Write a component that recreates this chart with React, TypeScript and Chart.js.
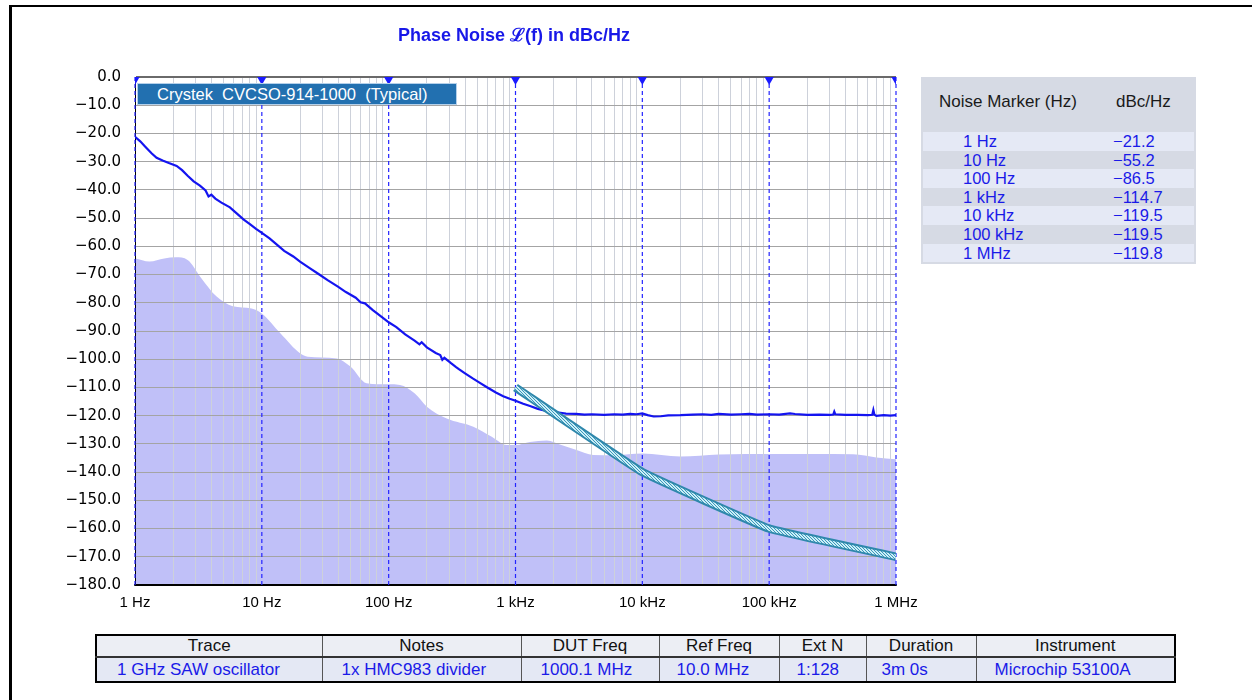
import { useEffect, useRef } from "react";
import { Chart, registerables } from "chart.js";
Chart.register(...registerables);

// ---------- data ----------
const MEAS_FREQ = [
  1, 1.1, 1.2, 1.35, 1.48, 1.65, 1.85, 2.13, 2.35, 2.6, 2.9, 3.25, 3.6, 3.8, 4.0, 4.3, 4.8, 5.6, 6.4, 7.2, 8.1, 9,
  10, 11.5, 13, 15, 17.7, 20, 24, 28, 33, 39.8, 46, 55, 60, 65, 75, 88,
  100, 115, 135, 160, 175, 182, 200, 235, 255, 265, 275, 310, 340, 360, 400, 460, 520, 600, 700, 800, 900,
  1000, 1150, 1300, 1500, 1750, 2115, 2500, 3000, 3500, 4000, 5000, 6000, 7000, 8000, 9000,
  10000, 11000, 12300, 14000, 16000, 20000, 25000, 30000, 35000, 40000, 50000, 60000, 70000, 80000,
  100000, 120000, 146000, 160000, 200000, 250000, 300000, 320000, 326000, 332000, 400000, 500000, 600000,
  650000, 663000, 675000, 700000, 800000, 900000, 1000000,
];
const MEAS_DB = [
  -21.2, -22.8, -24.6, -27, -28.6, -29.6, -30.5, -31.5, -33, -35, -37, -38.5, -40.2, -42.3, -41.7, -43.1, -44.5, -46.2, -48.5, -50.5, -52.2, -53.8,
  -55.2, -57.2, -59.2, -61.6, -63.6, -65.4, -67.8, -69.8, -72, -74.3, -76.2, -78.2, -79.8, -80.2, -82.6, -85,
  -86.9, -88.6, -91.2, -93.4, -94.7, -94.0, -95.8, -97.8, -98.5, -100.2, -99.5, -101.4, -102.8, -103.6, -105, -106.8, -108.3, -110, -111.8, -113.1, -114,
  -114.7, -115.8, -116.6, -117.6, -118.3, -118.8, -119.3, -119.4, -119.6, -119.5, -119.7, -119.5, -119.6, -119.4, -119.5,
  -119.2, -119.8, -120.3, -120.2, -119.9, -119.8, -119.6, -119.5, -119.7, -119.4, -119.6, -119.5, -119.4, -119.6,
  -119.5, -119.6, -119.2, -119.4, -119.7, -119.6, -119.7, -119.6, -118.6, -119.5, -119.7, -119.7, -119.8,
  -119.7, -118.0, -119.6, -120.1, -119.8, -120, -119.8,
];

const FLOOR_FREQ = [
  1, 1.3, 1.7, 2.1, 2.6, 3.3, 4.4, 5.9, 8.3, 10, 14, 20, 23, 39, 50, 67, 100, 123, 160, 200, 287, 465, 650, 850,
  1000, 1300, 1763, 2300, 3030, 4100, 6000, 10000, 20000, 40000, 66000, 224000, 460000, 700000, 1000000,
];
const FLOOR_DB = [
  -64.2, -65.4, -64.3, -63.9, -64.8, -71, -77.8, -81.2, -82, -83.8, -90.8, -97.9, -99.1, -99.7, -102.6, -108.5, -108.9, -109.1, -112.1, -116.8, -121, -123.9, -127.5, -130.4,
  -130.4, -129.3, -128.8, -130.4, -132.2, -133.9, -134, -133.4, -134.5, -133.8, -133.6, -133.6, -133.7, -134.8, -135.4,
];

const SPEC_FREQ = [1000, 10000, 100000, 1000000];
const SPEC_DB = [-110, -140, -160, -170];

const MARKER_FREQ = [1, 10, 100, 1000, 10000, 100000, 1000000];

const X_TICK_VALUES = [1, 10, 100, 1000, 10000, 100000, 1000000];
const X_TICK_LABELS = ["1 Hz", "10 Hz", "100 Hz", "1 kHz", "10 kHz", "100 kHz", "1 MHz"];
const Y_TICK_VALUES = [0, -10, -20, -30, -40, -50, -60, -70, -80, -90, -100, -110, -120, -130, -140, -150, -160, -170, -180];
const Y_TICK_LABELS = [
  "0.0", "−10.0", "−20.0", "−30.0", "−40.0", "−50.0", "−60.0", "−70.0", "−80.0", "−90.0",
  "−100.0", "−110.0", "−120.0", "−130.0", "−140.0", "−150.0", "−160.0", "−170.0", "−180.0",
];

const MARKER_NAMES = ["1 Hz", "10 Hz", "100 Hz", "1 kHz", "10 kHz", "100 kHz", "1 MHz"];
const MARKER_VALUES = ["−21.2", "−55.2", "−86.5", "−114.7", "−119.5", "−119.5", "−119.8"];

const INFO_HEAD = ["Trace", "Notes", "DUT Freq", "Ref Freq", "Ext N", "Duration", "Instrument"];
const INFO_ROW = ["1 GHz SAW oscillator", "1x HMC983 divider", "1000.1 MHz", "10.0 MHz", "1:128", "3m 0s", "Microchip 53100A"];

const LEGEND_TEXT = "Crystek  CVCSO-914-1000  (Typical)";

// ---------- layout ----------
const FONT = "'Liberation Sans', Arial, Helvetica, sans-serif";
const INFO_COL_W = [226, 199, 138, 120, 87, 110, 199];
const INFO_PAD = [20, 19, 19, 17, 17, 15, 18];

const X_GRID_VALUES: number[] = [];
for (const d of [1, 10, 100, 1000, 10000, 100000]) {
  for (let m = 1; m <= 9; m++) X_GRID_VALUES.push(d * m);
}
X_GRID_VALUES.push(1000000);

const isDecade = (v: number) => X_TICK_VALUES.some((d) => Math.abs(v - d) < 1e-9 * d);

function hatchPattern(): CanvasPattern | string {
  const c = document.createElement("canvas");
  c.width = 3;
  c.height = 3;
  const g = c.getContext("2d");
  if (!g) return "#9fd8e8";
  g.fillStyle = "#cdeff7";
  g.fillRect(0, 0, 3, 3);
  g.fillStyle = "#3c98bc";
  g.fillRect(0, 0, 1, 1);
  g.fillRect(1, 1, 1, 1);
  g.fillRect(2, 2, 1, 1);
  const p = g.createPattern(c, "repeat");
  return p || "#9fd8e8";
}

export default function App() {
  const ref = useRef<HTMLCanvasElement | null>(null);

  useEffect(() => {
    if (!ref.current) return;
    const pts = (xs: number[], ys: number[]) => xs.map((x, i) => ({ x, y: ys[i] }));

    const gridOverFill = {
      id: "gridOverFill",
      afterDatasetDraw(chart: any, args: any) {
        if (args.index === 0) {
          const area = chart.chartArea;
          const sx = chart.scales.x;
          const sy = chart.scales.y;
          chart.ctx.save();
          sx.drawGrid(area);
          sy.drawGrid(area);
          sx.drawBorder();
          sy.drawBorder();
          chart.ctx.restore();
        }
      },
    };

    const markerLines = MARKER_FREQ.map((f) => ({
      type: "line" as const,
      data: [
        { x: f, y: 0 },
        { x: f, y: -180 },
      ],
      borderColor: "#2424ff",
      borderWidth: 1.2,
      borderDash: [4, 3],
      pointRadius: 0,
      fill: false,
      order: 4,
      clip: 1,
    }));

    const chart = new Chart(ref.current, {
      type: "line",
      data: {
        datasets: [
          {
            data: pts(FLOOR_FREQ, FLOOR_DB),
            borderWidth: 0,
            borderColor: "rgba(0,0,0,0)",
            backgroundColor: "#c0c0f8",
            fill: "start",
            pointRadius: 0,
            cubicInterpolationMode: "monotone",
            order: 10,
          },
          ...markerLines,
          {
            data: pts(MEAS_FREQ, MEAS_DB),
            borderColor: "#1414f0",
            borderWidth: 2.2,
            pointRadius: 0,
            fill: false,
            tension: 0,
            order: 3,
          },
          {
            data: pts(SPEC_FREQ, SPEC_DB),
            borderColor: "#2f88ac",
            borderWidth: 8.5,
            pointRadius: 0,
            fill: false,
            tension: 0.08,
            order: 2,
          },
          {
            data: pts(SPEC_FREQ, SPEC_DB),
            borderColor: hatchPattern(),
            borderWidth: 4.5,
            pointRadius: 0,
            fill: false,
            tension: 0.08,
            order: 1,
          },
          {
            data: MARKER_FREQ.map((f) => ({ x: f, y: 0 })),
            showLine: false,
            pointStyle: "triangle",
            pointRotation: 180,
            pointRadius: 8,
            pointBackgroundColor: "#1a1aff",
            pointBorderWidth: 0,
            borderWidth: 0,
            order: 0,
            clip: 0,
          },
        ] as any,
      },
      options: {
        animation: false,
        responsive: false,
        devicePixelRatio: 1,
        events: [],
        layout: { padding: { left: 0, top: 77, right: 356, bottom: 75 } },
        plugins: { legend: { display: false }, tooltip: { enabled: false }, title: { display: false } },
        scales: {
          x: {
            type: "logarithmic",
            min: 1,
            max: 1000000,
            afterBuildTicks: (s: any) => {
              s.ticks = X_GRID_VALUES.map((v) => ({ value: v }));
            },
            afterFit: (s: any) => {
              s.height = 40;
            },
            ticks: {
              autoSkip: false,
              maxRotation: 0,
              padding: 9,
              color: "#000",
              font: { family: FONT, size: 15 },
              callback: (v: any) => {
                const i = X_TICK_VALUES.findIndex((d) => Math.abs(Number(v) - d) < 1e-9 * d);
                return i >= 0 ? X_TICK_LABELS[i] : "";
              },
            },
            grid: {
              drawTicks: false,
              color: (c: any) => (c.tick && isDecade(c.tick.value) ? "rgba(0,0,0,0)" : "#cdd1da"),
              lineWidth: 1,
            },
            border: { display: true, color: "#000", width: 1.5 },
          },
          y: {
            type: "linear",
            min: -180,
            max: 0,
            afterBuildTicks: (s: any) => {
              s.ticks = Y_TICK_VALUES.map((v) => ({ value: v }));
            },
            afterFit: (s: any) => {
              s.width = 135;
            },
            ticks: {
              padding: 14,
              color: "#000",
              font: { family: "'DejaVu Sans', sans-serif", size: 15 },
              callback: (v: any) => {
                const i = Y_TICK_VALUES.indexOf(Number(v));
                return i >= 0 ? Y_TICK_LABELS[i] : "";
              },
            },
            grid: {
              drawTicks: false,
              color: (c: any) => (c.tick && c.tick.value === 0 ? "#6a6a6a" : c.tick && c.tick.value === -180 ? "#000" : "#a4a4a4"),
              lineWidth: (c: any) => (c.tick && c.tick.value === 0 ? 2 : 1),
            },
            border: { display: true, color: "#000", width: 1 },
          },
        },
      } as any,
      plugins: [gridOverFill],
    });
    return () => chart.destroy();
  }, []);

  return (
    <div
      style={{
        position: "absolute",
        left: 0,
        top: 0,
        width: 1252,
        height: 700,
        overflow: "hidden",
        background: "#fff",
        fontFamily: FONT,
      }}
    >
      <div
        style={{
          position: "absolute",
          left: 9,
          top: 5,
          width: 1400,
          height: 900,
          borderTop: "2px solid #000",
          borderLeft: "3px solid #000",
        }}
      />
      <canvas ref={ref} width={1252} height={700} style={{ position: "absolute", left: 0, top: 0, width: 1252, height: 700 }} />
      <div
        style={{
          position: "absolute",
          left: 0,
          width: 1028,
          top: 23,
          textAlign: "center",
          fontWeight: "bold",
          fontSize: 18,
          color: "#1818e8",
          lineHeight: "24px",
        }}
      >
        Phase Noise ℒ(f) in dBc/Hz
      </div>
      <div
        style={{
          position: "absolute",
          left: 137,
          top: 83,
          width: 320,
          height: 22,
          background: "#2270b0",
          border: "1px solid #b4d0ea",
          color: "#fff",
          fontSize: 16.5,
          lineHeight: "20px",
          paddingLeft: 19,
          boxSizing: "border-box",
          whiteSpace: "pre",
        }}
      >
        {LEGEND_TEXT}
      </div>
      {/* Noise marker table */}
      <div
        style={{
          position: "absolute",
          left: 921,
          top: 77,
          width: 275,
          height: 187,
          background: "#d6dae4",
        }}
      >
        <div style={{ position: "absolute", left: 18, top: 15, fontSize: 17, color: "#1a1a1a" }}>Noise Marker (Hz)</div>
        <div style={{ position: "absolute", left: 195, top: 15, fontSize: 17, color: "#1a1a1a" }}>dBc/Hz</div>
        {MARKER_NAMES.map((n, i) => (
          <div
            key={n}
            style={{
              position: "absolute",
              left: 2,
              right: 2,
              top: 55 + i * 18.6,
              height: 18.6,
              background: i % 2 === 0 ? "#e5e9f5" : "#d6dae4",
              fontSize: 16.5,
              lineHeight: "18.6px",
              color: "#1a1ae8",
            }}
          >
            <span style={{ position: "absolute", left: 40 }}>{n}</span>
            <span style={{ position: "absolute", left: 190 }}>{MARKER_VALUES[i]}</span>
          </div>
        ))}
      </div>
      {/* info table */}
      <table
        style={{
          position: "absolute",
          left: 95,
          top: 634,
          width: 1079,
          borderCollapse: "collapse",
          border: "2px solid #000",
          fontSize: 17,
          tableLayout: "fixed",
        }}
      >
        <colgroup>
          {INFO_COL_W.map((w, i) => (
            <col key={i} style={{ width: w }} />
          ))}
        </colgroup>
        <tbody>
          <tr style={{ height: 22, background: "#eceef4" }}>
            {INFO_HEAD.map((h) => (
              <td key={h} style={{ border: "1px solid #555", textAlign: "center", padding: 0, color: "#111", lineHeight: "20px" }}>
                {h}
              </td>
            ))}
          </tr>
          <tr style={{ height: 25, background: "#e4e8f4" }}>
            {INFO_ROW.map((h, i) => (
              <td
                key={h}
                style={{
                  border: "1px solid #555",
                  borderTop: "2px solid #333",
                  padding: 0,
                  paddingLeft: INFO_PAD[i],
                  color: "#1a1ae8",
                  whiteSpace: "nowrap",
                  lineHeight: "22px",
                }}
              >
                {h}
              </td>
            ))}
          </tr>
        </tbody>
      </table>
    </div>
  );
}
